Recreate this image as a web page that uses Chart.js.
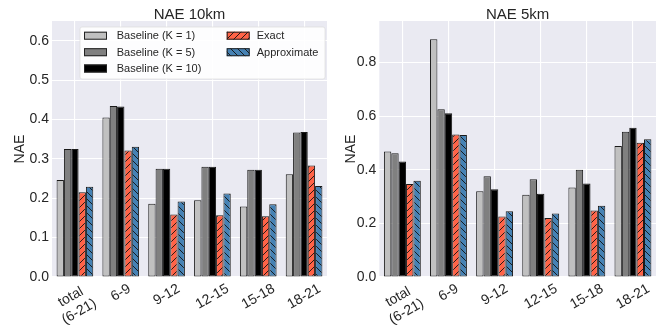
<!DOCTYPE html>
<html><head><meta charset="utf-8">
<script src="https://cdn.jsdelivr.net/npm/chart.js@4/dist/chart.umd.min.js"></script>
<style>
html,body{margin:0;padding:0;background:#fff;}
#wrap{position:relative;width:662px;height:325px;overflow:hidden;}
.panel{position:absolute;top:0;width:331px;height:325px;}
</style></head><body>
<div id="wrap">
<div class="panel" style="left:0"><canvas id="c1" width="331" height="325"></canvas></div>
<div class="panel" style="left:331px"><canvas id="c2" width="331" height="325"></canvas></div>
</div>
<script>
// ---- data ----
const categories = [["total","(6-21)"],"6-9","9-12","12-15","15-18","18-21"];
const seriesNames = ["Baseline (K = 1)","Baseline (K = 5)","Baseline (K = 10)","Exact","Approximate"];

const nae10_k1     = [0.246,0.405,0.186,0.195,0.179,0.261];
const nae10_k5     = [0.325,0.434,0.275,0.280,0.272,0.367];
const nae10_k10    = [0.325,0.433,0.275,0.280,0.272,0.368];
const nae10_exact  = [0.215,0.321,0.159,0.157,0.154,0.283];
const nae10_approx = [0.229,0.331,0.192,0.212,0.185,0.231];

const nae5_k1      = [0.468,0.887,0.320,0.307,0.334,0.489];
const nae5_k5      = [0.462,0.626,0.376,0.365,0.400,0.542];
const nae5_k10     = [0.431,0.611,0.327,0.311,0.349,0.557];
const nae5_exact   = [0.347,0.532,0.226,0.220,0.248,0.501];
const nae5_approx  = [0.359,0.530,0.245,0.237,0.266,0.514];

const yTicks10 = [0.0,0.1,0.2,0.3,0.4,0.5,0.6];
const yTicks5  = [0.0,0.2,0.4,0.6,0.8];

// ---- styles ----
const FONT = "'Liberation Sans', Arial, Helvetica, sans-serif";
const TXT = '#262626';
const fills = ['#c0c0c0','#808080','#000000','#ff6347','#4682b4'];
const hatchDir = [0,0,0,1,-1];

function hatch(color, dir){
  const s = 7;
  const c = document.createElement('canvas'); c.width = s; c.height = s;
  const g = c.getContext('2d');
  g.fillStyle = color; g.fillRect(0,0,s,s);
  g.strokeStyle = '#111'; g.lineWidth = 0.9;
  g.beginPath();
  if (dir > 0) {
    g.moveTo(-1,s+1); g.lineTo(s+1,-1);
    g.moveTo(-1,1); g.lineTo(1,-1);
    g.moveTo(s-1,s+1); g.lineTo(s+1,s-1);
  } else {
    g.moveTo(-1,-1); g.lineTo(s+1,s+1);
    g.moveTo(s-1,-1); g.lineTo(s+1,1);
    g.moveTo(-1,s-1); g.lineTo(1,s+1);
  }
  g.stroke();
  return g.createPattern(c,'repeat');
}
const bgs = fills.map((f,i)=> hatchDir[i] ? hatch(f,hatchDir[i]) : f);

Chart.defaults.font.family = FONT;

const bgPlugin = {
  id:'bg',
  beforeDraw(chart){
    const {ctx, chartArea:a} = chart;
    ctx.save(); ctx.fillStyle = '#EAEAF2';
    ctx.fillRect(a.left, a.top, a.right-a.left, a.bottom-a.top);
    ctx.restore();
  }
};

const xLabelPlugin = {
  id:'xlabels',
  afterDraw(chart){
    const {ctx, chartArea:a} = chart;
    const xs = chart.scales.x;
    const th = 30*Math.PI/180, lh = 16.8;
    ctx.save();
    ctx.font = '14px ' + FONT;
    ctx.fillStyle = TXT;
    ctx.textAlign = 'center'; ctx.textBaseline = 'middle';
    chart.data.labels.forEach((lab,i)=>{
      const lines = Array.isArray(lab) ? lab : [lab];
      const w = Math.max(...lines.map(l=>ctx.measureText(l).width));
      const h = lines.length*lh;
      const H = w*Math.sin(th) + h*Math.cos(th);
      const x = xs.getPixelForValue(i);
      const y = a.bottom + 3.5 + H/2;
      ctx.save(); ctx.translate(x,y); ctx.rotate(-th);
      lines.forEach((l,j)=> ctx.fillText(l, 0, (j-(lines.length-1)/2)*lh));
      ctx.restore();
    });
    ctx.restore();
  }
};

const legendPlugin = {
  id:'customLegend',
  afterDatasetsDraw(chart, args, opts){
    if (!opts.show) return;
    const {ctx, chartArea:a} = chart;
    const L = a.left+28, T = a.top+6, R = a.right-2, B = a.top+58;
    ctx.save();
    ctx.fillStyle = 'rgba(255,255,255,0.9)';
    ctx.strokeStyle = 'rgba(220,220,220,0.9)'; ctx.lineWidth = 0.8;
    ctx.beginPath();
    if (ctx.roundRect) ctx.roundRect(L,T,R-L,B-T,2); else ctx.rect(L,T,R-L,B-T);
    ctx.fill(); ctx.stroke();
    ctx.font = '11px ' + FONT; ctx.textBaseline = 'middle'; ctx.textAlign = 'left';
    const rowY = [a.top+14.7, a.top+31.2, a.top+47.5];
    chart.data.datasets.forEach((ds,i)=>{
      const col = i < 3 ? 0 : 1, row = i < 3 ? i : i-3;
      const sx = col===0 ? L+4 : L+146.7;
      const tx = col===0 ? L+36.7 : L+176.7;
      const y = rowY[row];
      ctx.fillStyle = ds.backgroundColor;
      ctx.fillRect(sx, y-4, 23, 8);
      ctx.strokeStyle = '#222'; ctx.lineWidth = 1;
      ctx.strokeRect(sx+0.5, y-3.5, 22, 7);
      ctx.fillStyle = TXT;
      ctx.fillText(ds.label, tx, y+0.5);
    });
    ctx.restore();
  }
};

function makeChart(id, title, series, yMax, yTicks, yWidth, padRight, showLegend){
  return new Chart(document.getElementById(id), {
    type:'bar',
    data:{
      labels: categories,
      datasets: series.map((d,i)=>({
        label: seriesNames[i], data: d,
        backgroundColor: bgs[i], borderColor:'#1a1a1a', borderWidth:1,
        borderSkipped:false,
        categoryPercentage:0.8, barPercentage:1.0
      }))
    },
    options:{
      responsive:false, animation:false, devicePixelRatio:1,
      layout:{padding:{left:0,right:padRight,top:0,bottom:0}},
      plugins:{
        legend:{display:false}, tooltip:{enabled:false},
        title:{display:true, text:title, fullSize:false, color:TXT,
          font:{size:15, weight:'normal', lineHeight:1.0}, padding:{top:7,bottom:-1}},
        customLegend:{show:showLegend}
      },
      scales:{
        x:{
          grid:{display:true, offset:false, color:'#ffffff', lineWidth:1.1, drawTicks:false},
          border:{display:false},
          ticks:{display:false},
          afterFit(s){ s.height = 48; }
        },
        y:{
          min:0, max:yMax,
          grid:{color:'#ffffff', lineWidth:1.1, drawTicks:false},
          border:{display:false},
          afterBuildTicks(s){ s.ticks = yTicks.map(v=>({value:v})); },
          ticks:{color:TXT, font:{size:14}, padding:3, callback:v=>Number(v).toFixed(1)},
          title:{display:true, text:'NAE', color:TXT, font:{size:14}, padding:{top:12,bottom:0}},
          afterFit(s){ s.width = yWidth; }
        }
      }
    },
    plugins:[bgPlugin, xLabelPlugin, legendPlugin]
  });
}

makeChart('c1','NAE 10km',[nae10_k1,nae10_k5,nae10_k10,nae10_exact,nae10_approx],0.65,yTicks10,52,4,true);
makeChart('c2','NAE 5km',[nae5_k1,nae5_k5,nae5_k10,nae5_exact,nae5_approx],0.955,yTicks5,48.3,6,false);
</script>
</body></html>
